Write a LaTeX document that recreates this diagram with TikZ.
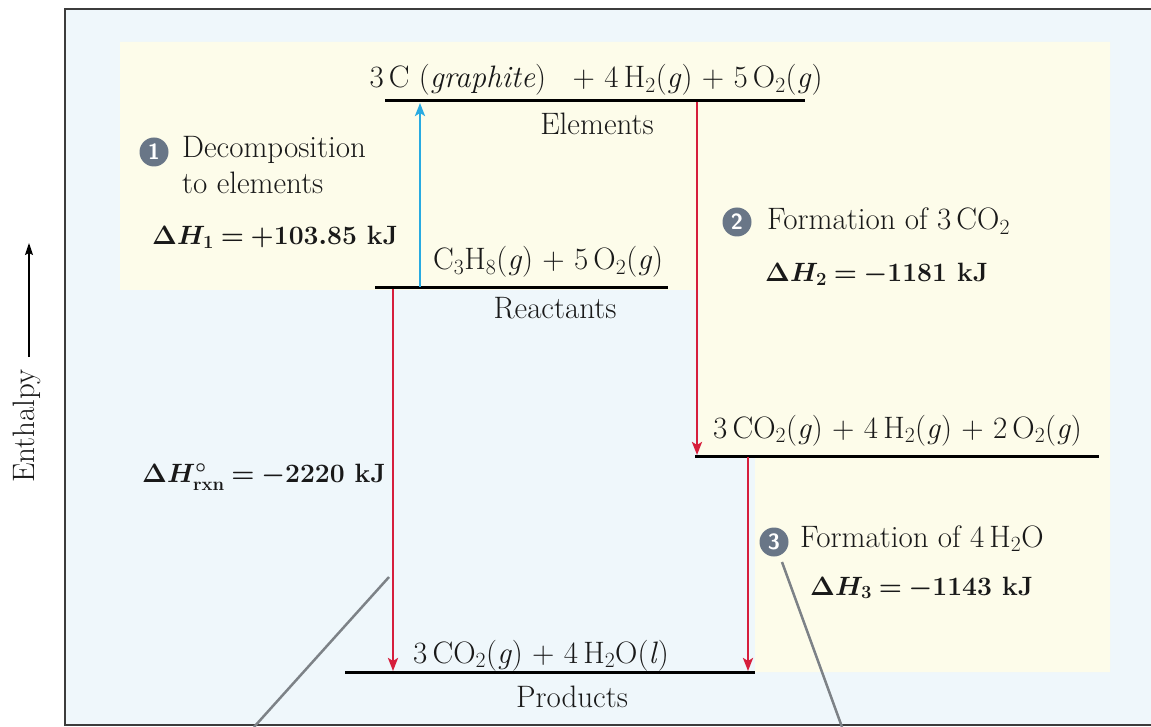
\RequirePackage{fix-cm}
\documentclass[tikz,border=0pt]{standalone}
\usetikzlibrary{arrows.meta}
\definecolor{bgblue}{RGB}{239,247,251}
\definecolor{bgyellow}{RGB}{253,252,234}
\definecolor{arrred}{RGB}{214,30,60}
\definecolor{arrblue}{RGB}{40,170,225}
\definecolor{circgray}{RGB}{105,118,135}
\definecolor{callgray}{RGB}{125,130,135}
\definecolor{framegray}{RGB}{60,60,60}
\newcommand\tightmath{\thickmuskip=4mu plus 2mu\relax\medmuskip=3mu plus 2mu\relax}
\begin{document}
\begin{tikzpicture}[x=1pt,y=-1pt,
  txt/.style={inner sep=0pt, text=black!90, font=\fontsize{31}{37}\selectfont},
  eq/.style={inner sep=0pt, text=black!90, font=\fontsize{26.5}{32}\selectfont\bfseries\boldmath\tightmath},
  level/.style={line width=3pt, black},
  downarrow/.style={draw=arrred, line width=2.5pt, -{Stealth[length=13pt,width=10pt,inset=3pt]}},
  uparrow/.style={draw=arrblue, line width=2.5pt, -{Stealth[length=13pt,width=10pt,inset=3pt]}},
  axisarrow/.style={draw=black, line width=1.5pt, -{Stealth[length=12pt,width=8pt,inset=2pt]}},
  numcirc/.style={circle, fill=circgray, text=white, inner sep=0pt, minimum size=29pt, font=\fontsize{22}{22}\selectfont\sffamily\bfseries},
  callout/.style={draw=callgray, line width=2.5pt}]
\useasboundingbox (0,0) rectangle (1151,727);
% backgrounds
\fill[white] (0,0) rectangle (1151,727);
\fill[bgblue] (65,9) rectangle (1151,725);
\fill[bgyellow] (120,42) -- (1110,42) -- (1110,672) -- (755,672) -- (755,456) -- (699,456) -- (699,290) -- (120,290) -- cycle;
\draw[framegray, line width=2pt] (1151,9) -- (65,9) -- (65,725) -- (1151,725);

% level end points
\coordinate (elL) at (385,101);  \coordinate (elR) at (805,101);
\coordinate (reL) at (375,288);  \coordinate (reR) at (668,288);
\coordinate (imL) at (695,456);  \coordinate (imR) at (1099,456);
\coordinate (prL) at (345,672);  \coordinate (prR) at (755,672);
\draw[level] (elL) -- (elR);
\draw[level] (reL) -- (reR);
\draw[level] (imL) -- (imR);
\draw[level] (prL) -- (prR);

% arrows
\coordinate (a1s) at (420,287); \coordinate (a1e) at (420,103);
\coordinate (a2s) at (697,102); \coordinate (a2e) at (697,455);
\coordinate (a3s) at (748,457); \coordinate (a3e) at (748,671);
\coordinate (a4s) at (393,289); \coordinate (a4e) at (393,671);
\draw[uparrow] (a1s) -- (a1e);
\draw[downarrow] (a2s) -- (a2e);
\draw[downarrow] (a3s) -- (a3e);
\draw[downarrow] (a4s) -- (a4e);

% enthalpy axis
\node[txt, rotate=90, anchor=center] (enth) at (27,426) {Enthalpy};
\coordinate (axs) at (29,357); \coordinate (axe) at (29,243);
\draw[axisarrow] (axs) -- (axe);

% texts
\node[txt, anchor=base] (elf) at (596,88) {3\,C (\textit{graphite})\;\; + 4\,H$_2$(\textit{g}) + 5\,O$_2$(\textit{g})};
\node[txt, anchor=base] (ell) at (597,135) {Elements};

\node[numcirc] (c1) at (154,152) {1};
\node[txt, anchor=base west] (t1a) at (182,158) {Decomposition};
\node[txt, anchor=base west] (t1b) at (182,194) {to elements};
\node[eq, anchor=base west] (h1) at (152,245) {$\Delta H_1 = +103.85$ kJ};

\node[txt, anchor=base west] (ref) at (433,270) {C$_3$H$_8$(\textit{g}) + 5\,O$_2$(\textit{g})};
\node[txt, anchor=base] (rel) at (555,318) {Reactants};

\node[numcirc] (c2) at (737,222) {2};
\node[txt, anchor=base west] (t2) at (767,230) {Formation of 3\,CO$_2$};
\node[eq, anchor=base west] (h2) at (765,282) {$\Delta H_2 = -1181$ kJ};

\node[txt, anchor=base west] (imf) at (713,438) {3\,CO$_2$(\textit{g}) + 4\,H$_2$(\textit{g}) + 2\,O$_2$(\textit{g})};

\node[eq, anchor=base west] (hr) at (142,482) {$\Delta H^{\circ}_{\mathrm{rxn}} = -2220$ kJ};

\node[numcirc] (c3) at (774,542) {3};
\node[txt, anchor=base west] (t3) at (800,547) {Formation of 4\,H$_2$O};
\node[eq, anchor=base west] (h3) at (810,595) {$\Delta H_3 = -1143$ kJ};

\node[txt, anchor=base west] (prf) at (413,663) {3\,CO$_2$(\textit{g}) + 4\,H$_2$O(\textit{l})};
\node[txt, anchor=base] (prl) at (572,707) {Products};

% callout lines
\coordinate (k1a) at (389,577); \coordinate (k1b) at (254,727);
\coordinate (k2a) at (782,562); \coordinate (k2b) at (842,727);
\draw[callout] (k1a) -- (k1b);
\draw[callout] (k2a) -- (k2b);
\end{tikzpicture}
\end{document}
